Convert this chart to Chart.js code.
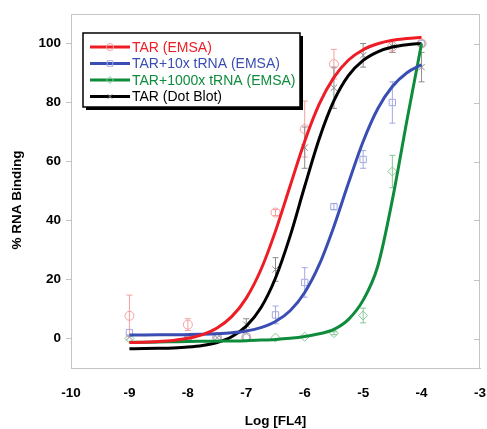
<!DOCTYPE html>
<html>
<head>
<meta charset="utf-8">
<title>% RNA Binding vs Log [FL4]</title>
<script src="https://cdn.jsdelivr.net/npm/chart.js@4.4.1/dist/chart.umd.min.js"></script>
<style>
  html, body { margin: 0; padding: 0; background: #fff; }
</style>
</head>
<body>
<canvas id="bindingChart" width="487" height="429"></canvas>
<script>
// fitted curves, every 0.25 log units
const curveX = [-9, -8.75, -8.5, -8.25, -8, -7.75, -7.5, -7.25, -7, -6.75, -6.5, -6.25, -6, -5.75, -5.5, -5.25, -5, -4.75, -4.5, -4.25, -4];
const redCurve = [-1.36, -1.24, -1.03, -0.64, 0.06, 1.33, 3.56, 7.4, 13.7, 23.3, 36.4, 51.7, 66.9, 79.5, 88.5, 94.4, 97.9, 99.9, 101.1, 101.7, 102.1];
const blueCurve = [1.21, 1.22, 1.23, 1.26, 1.31, 1.4, 1.58, 1.91, 2.53, 3.67, 5.74, 9.4, 15.6, 25.1, 38.0, 52.8, 66.8, 77.9, 85.4, 90.1, 92.8];
const greenCurve = [-1.3, -1.25, -1.2, -1.1, -1.0, -0.95, -0.9, -0.85, -0.75, -0.55, -0.3, 0.1, 0.7, 1.6, 3.1, 6.5, 13, 24.5, 47, 74, 100];
const blackCurve = [-3.46, -3.42, -3.34, -3.2, -2.92, -2.37, -1.34, 0.61, 4.19, 10.4, 20.5, 34.7, 51.6, 67.8, 80.6, 89.2, 94.3, 97.2, 98.8, 99.6, 100.0];

// measured points (mean and error)
const doseX = [-9, -8, -7.5, -7, -6.5, -6, -5.5, -5, -4.5, -4];
const redPts = [7.7, 4.7, 0.5, 0.5, 42.7, 71, 93, null, 99, 100];
const redErr = [7, 2, 0, 0, 1, 9.5, 5, 0, 2, 0];
const bluePts = [2.0, 0.5, 0.5, 0.5, 8, 19, 44.7, 60.7, 80, 100];
const blueErr = [0, 0, 0, 0, 3, 5, 1, 3, 7, 0];
const greenPts = [0, 0, 0, 0.3, 0.3, 0.6, 1.8, 7.8, 56.6, 100];
const greenErr = [0, 0, 0, 0, 0, 0, 0.5, 2.5, 5.5, 0];
const blackPts = [0.5, 0.3, 0.3, 4.7, 23.4, 64.7, 85, 96, 99, 92];
const blackErr = [0, 0, 0, 2, 4, 7, 7, 4, 2, 5];

const seriesNames = ['TAR (EMSA)', 'TAR+10x tRNA (EMSA)', 'TAR+1000x tRNA (EMSA)', 'TAR (Dot Blot)'];
const xTicks = [-10, -9, -8, -7, -6, -5, -4, -3];
const yTicks = [0, 20, 40, 60, 80, 100];

const lineColors = ['#ee1c25', '#3a4db3', '#0e8c3c', '#000000'];
const textColors = ['#ee1c25', '#3a4db3', '#0e8c3c', '#000000'];
const markColors = ['#f5a0a0', '#a3a8e2', '#86c795', '#8c8c8c'];
const markStyles = ['circle', 'rect', 'rectRot', 'crossRot'];
const FONT = "'Liberation Sans', Arial, sans-serif";

function toPoints(xs, ys) {
  return xs.map((x, i) => ({ x: x, y: ys[i] }));
}

const curves = [redCurve, blueCurve, greenCurve, blackCurve];
const pts = [redPts, bluePts, greenPts, blackPts];
const errs = [redErr, blueErr, greenErr, blackErr];

const datasets = [];
pts.forEach((p, i) => {
  datasets.push({
    label: seriesNames[i] + ' data',
    data: toPoints(doseX, p),
    errors: errs[i],
    showLine: false,
    pointStyle: markStyles[i],
    pointRadius: 4.5,
    pointBackgroundColor: 'rgba(0,0,0,0)',
    pointBorderColor: markColors[i],
    borderColor: markColors[i],
    pointBorderWidth: 1,
    order: 2
  });
});
curves.forEach((c, i) => {
  datasets.push({
    label: seriesNames[i],
    data: toPoints(curveX, c),
    showLine: true,
    borderColor: lineColors[i],
    borderWidth: 3,
    pointRadius: 0,
    cubicInterpolationMode: 'monotone',
    fill: false,
    order: 1
  });
});

// error bars under the markers
const errorBars = {
  id: 'errorBars',
  beforeDatasetsDraw(chart) {
    const { ctx, scales: { x, y } } = chart;
    chart.data.datasets.forEach(ds => {
      if (!ds.errors) return;
      ctx.save();
      ctx.strokeStyle = ds.borderColor;
      ctx.lineWidth = 1;
      ds.data.forEach((pt, i) => {
        const e = ds.errors[i];
        if (pt.y === null || !e) return;
        const px = x.getPixelForValue(pt.x);
        const top = y.getPixelForValue(pt.y + e);
        const bot = y.getPixelForValue(pt.y - e);
        ctx.beginPath();
        ctx.moveTo(px, top); ctx.lineTo(px, bot);
        ctx.moveTo(px - 3, top); ctx.lineTo(px + 3, top);
        ctx.moveTo(px - 3, bot); ctx.lineTo(px + 3, bot);
        ctx.stroke();
      });
      ctx.restore();
    });
  }
};

function drawMarker(ctx, style, cx, cy, r) {
  ctx.beginPath();
  if (style === 'circle') {
    ctx.arc(cx, cy, r, 0, Math.PI * 2);
  } else if (style === 'rect') {
    ctx.rect(cx - r * 0.8, cy - r * 0.8, r * 1.6, r * 1.6);
  } else if (style === 'rectRot') {
    ctx.moveTo(cx, cy - r); ctx.lineTo(cx + r, cy); ctx.lineTo(cx, cy + r); ctx.lineTo(cx - r, cy); ctx.closePath();
  } else {
    const d = r * 0.7;
    ctx.moveTo(cx - d, cy - d); ctx.lineTo(cx + d, cy + d);
    ctx.moveTo(cx + d, cy - d); ctx.lineTo(cx - d, cy + d);
  }
  ctx.stroke();
}

// frame, right ticks, boxed legend, y title
const decorations = {
  id: 'decorations',
  afterDraw(chart) {
    const { ctx, chartArea: a, scales: { y } } = chart;
    ctx.save();
    ctx.strokeStyle = '#c4c4c4';
    ctx.lineWidth = 1;
    ctx.strokeRect(a.left + 0.5, a.top + 0.5, a.right - a.left - 1, a.bottom - a.top);
    yTicks.forEach(v => {
      const py = Math.round(y.getPixelForValue(v)) + 0.5;
      ctx.beginPath();
      ctx.moveTo(a.right - 6, py); ctx.lineTo(a.right, py);
      ctx.stroke();
    });

    // legend box with shadow
    const bx = 83, by = 33, bw = 217, bh = 74;
    ctx.fillStyle = '#000';
    ctx.fillRect(bx + 3, by + 3, bw, bh);
    ctx.fillStyle = '#fff';
    ctx.fillRect(bx, by, bw, bh);
    ctx.strokeStyle = '#000';
    ctx.lineWidth = 1.5;
    ctx.strokeRect(bx, by, bw, bh);

    ctx.font = '14px ' + FONT;
    ctx.textBaseline = 'middle';
    seriesNames.forEach((name, i) => {
      const ry = 47 + i * 16.5;
      ctx.strokeStyle = lineColors[i];
      ctx.lineWidth = 3;
      ctx.beginPath();
      ctx.moveTo(90, ry); ctx.lineTo(130, ry);
      ctx.stroke();
      ctx.strokeStyle = markColors[i];
      ctx.lineWidth = 1;
      drawMarker(ctx, markStyles[i], 110, ry, 3.5);
      ctx.fillStyle = textColors[i];
      ctx.fillText(name, 132, ry + 1);
    });

    // y axis title
    ctx.translate(17, 200);
    ctx.rotate(-Math.PI / 2);
    ctx.fillStyle = '#000';
    ctx.font = 'bold 13.5px ' + FONT;
    ctx.textAlign = 'center';
    ctx.fillText('% RNA Binding', 0, 0);
    ctx.restore();
  }
};

new Chart(document.getElementById('bindingChart'), {
  type: 'scatter',
  data: { datasets: datasets },
  plugins: [errorBars, decorations],
  options: {
    responsive: false,
    animation: false,
    layout: { padding: { top: 14, right: 7, left: 0, bottom: 0 } },
    plugins: {
      legend: { display: false },
      tooltip: { enabled: false }
    },
    scales: {
      x: {
        type: 'linear',
        min: -10,
        max: -3,
        afterBuildTicks: axis => { axis.ticks = xTicks.map(v => ({ value: v })); },
        afterFit: scale => { scale.height = 61; scale.paddingRight = 0; scale.paddingLeft = 0; },
        grid: { display: false },
        border: { display: true, color: '#c4c4c4' },
        ticks: { color: '#000', padding: 9, font: { family: FONT, size: 13.5, weight: 'bold' } },
        title: {
          display: true,
          text: 'Log [FL4]',
          color: '#000',
          padding: { top: 0, bottom: 0 },
          font: { family: FONT, size: 13.5, weight: 'bold' }
        }
      },
      y: {
        min: -10,
        max: 110,
        afterBuildTicks: axis => { axis.ticks = yTicks.map(v => ({ value: v })); },
        afterFit: scale => { scale.width = 71; },
        grid: { drawOnChartArea: false, drawTicks: true, tickLength: 5, color: '#c4c4c4' },
        border: { display: true, color: '#c4c4c4' },
        ticks: { color: '#000', padding: 5, font: { family: FONT, size: 13.5, weight: 'bold' } }
      }
    }
  }
});
</script>
</body>
</html>
